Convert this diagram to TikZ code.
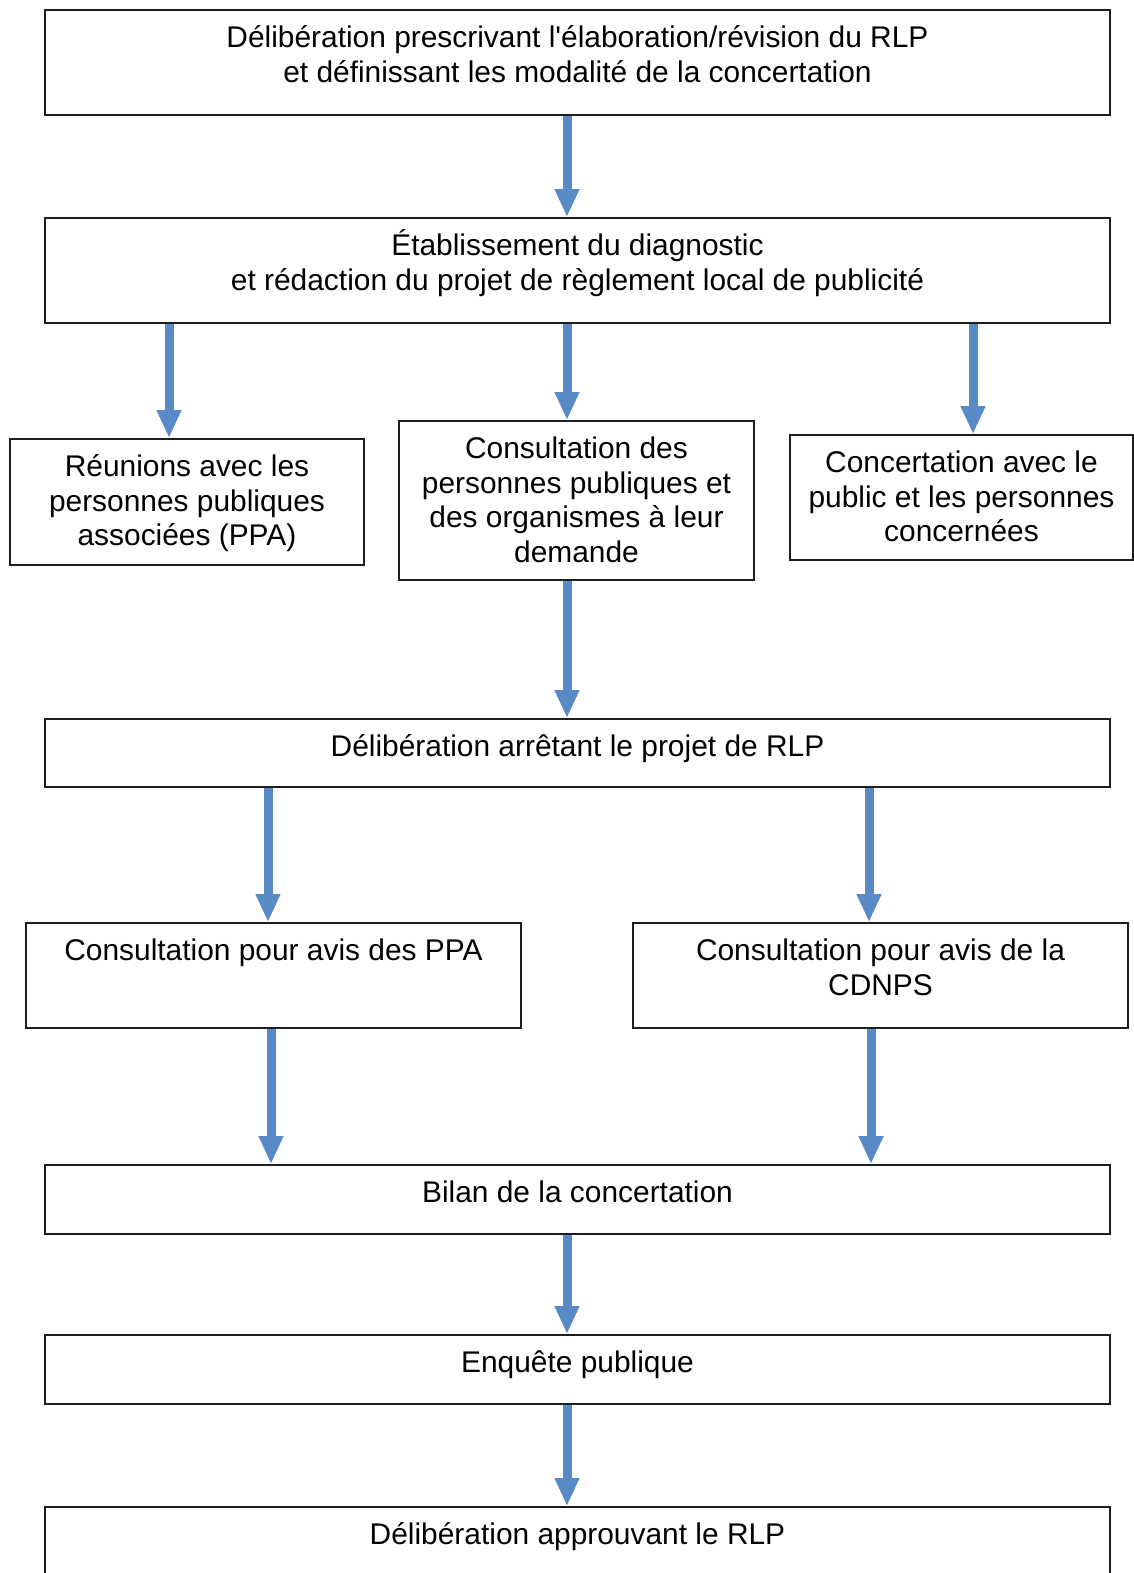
\documentclass[tikz,border=0pt]{standalone}
\usepackage{fontspec}
\setmainfont{Liberation Sans}
\usetikzlibrary{arrows.meta,positioning}
\definecolor{flowblue}{RGB}{88,138,200}
\definecolor{boxline}{RGB}{30,30,30}
\newcommand{\boxstrut}{\rule{0pt}{28pt}}

\begin{document}
\begin{tikzpicture}[x=1pt,y=1pt]
                \tikzstyle{every node}+=[inner sep=0pt]
                \tikzstyle{box}=[draw=boxline, line width=1.8pt, rectangle]
                \tikzstyle{txt}=[font=\fontsize{29.9}{34.5}\selectfont, align=center]
                \tikzstyle{flow}=[draw=flowblue, line width=9pt, -{Triangle[width=23pt,length=28pt]}]
                \useasboundingbox (0,0) rectangle (1134,-1573);
                \clip (0,0) rectangle (1134,-1573);
                \coordinate (cmid) at (567,0);
                \coordinate (cleft) at (169,0);
                \coordinate (cright) at (973,0);
                \coordinate (cppa) at (268,0);
                \coordinate (ccdnps) at (869,0);
                \coordinate (cppab) at (271,0);
                \coordinate (ccdnpsb) at (871,0);
                \node [box, minimum width=1065pt, minimum height=105pt] (prescr) at (577.5,-62.5) {};
                \node [txt, below=10.5pt of prescr.north] (prescrtxt) {\boxstrut D\'elib\'eration prescrivant l\textquotesingle \'elaboration/r\'evision du RLP\\et d\'efinissant les modalit\'e de la concertation};
                \node [box, minimum width=1065pt, minimum height=105pt] (diag) at (577.5,-270.5) {};
                \node [txt, below=10.5pt of diag.north] (diagtxt) {\boxstrut \'Etablissement du diagnostic\\et r\'edaction du projet de r\`eglement local de publicit\'e};
                \node [box, minimum width=354pt, minimum height=126pt] (reunion) at (187,-502) {};
                \node [txt, below=10.5pt of reunion.north] (reuniontxt) {\boxstrut R\'eunions avec les\\personnes publiques\\associ\'ees (PPA)};
                \node [box, minimum width=355pt, minimum height=159pt] (consult) at (576.5,-500.5) {};
                \node [txt, below=10.5pt of consult.north] (consulttxt) {\boxstrut Consultation des\\personnes publiques et\\des organismes \`a leur\\demande};
                \node [box, minimum width=343pt, minimum height=125pt] (concert) at (961.5,-497.5) {};
                \node [txt, below=10.5pt of concert.north] (concerttxt) {\boxstrut Concertation avec le\\public et les personnes\\concern\'ees};
                \node [box, minimum width=1065pt, minimum height=68pt] (arret) at (577.5,-753) {};
                \node [txt, below=10.5pt of arret.north] (arrettxt) {\boxstrut D\'elib\'eration arr\^etant le projet de RLP};
                \node [box, minimum width=495pt, minimum height=105pt] (avisppa) at (273.5,-975.5) {};
                \node [txt, below=10.5pt of avisppa.north] (avisppatxt) {\boxstrut Consultation pour avis des PPA};
                \node [box, minimum width=495pt, minimum height=105pt] (aviscdnps) at (880.5,-975.5) {};
                \node [txt, below=10.5pt of aviscdnps.north] (aviscdnpstxt) {\boxstrut Consultation pour avis de la\\CDNPS};
                \node [box, minimum width=1065pt, minimum height=69pt] (bilan) at (577.5,-1199.5) {};
                \node [txt, below=10.5pt of bilan.north] (bilantxt) {\boxstrut Bilan de la concertation};
                \node [box, minimum width=1065pt, minimum height=69pt] (enquete) at (577.5,-1369.5) {};
                \node [txt, below=10.5pt of enquete.north] (enquetetxt) {\boxstrut Enqu\^ete publique};
                \node [box, minimum width=1065pt, minimum height=105pt] (approb) at (577.5,-1559.5) {};
                \node [txt, below=10.5pt of approb.north] (approbtxt) {\boxstrut D\'elib\'eration approuvant le RLP};
                \draw [flow] (prescr.south -| cmid) -- (diag.north -| cmid);
                \draw [flow] (diag.south -| cleft) -- (reunion.north -| cleft);
                \draw [flow] (diag.south -| cmid) -- (consult.north -| cmid);
                \draw [flow] (diag.south -| cright) -- (concert.north -| cright);
                \draw [flow] (consult.south -| cmid) -- (arret.north -| cmid);
                \draw [flow] (arret.south -| cppa) -- (avisppa.north -| cppa);
                \draw [flow] (arret.south -| ccdnps) -- (aviscdnps.north -| ccdnps);
                \draw [flow] (avisppa.south -| cppab) -- (bilan.north -| cppab);
                \draw [flow] (aviscdnps.south -| ccdnpsb) -- (bilan.north -| ccdnpsb);
                \draw [flow] (bilan.south -| cmid) -- (enquete.north -| cmid);
                \draw [flow] (enquete.south -| cmid) -- (approb.north -| cmid);
\end{tikzpicture}
\end{document}
